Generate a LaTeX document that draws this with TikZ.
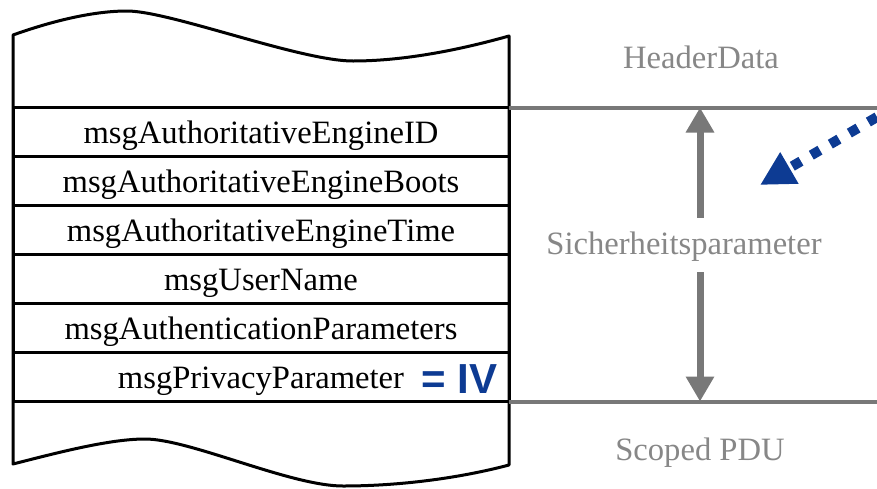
\documentclass[tikz,border=0pt]{standalone}
\usepackage{fontspec}
\setmainfont{Liberation Serif}
\newfontfamily\ivfont{Liberation Sans}
\usetikzlibrary{arrows.meta}
\definecolor{rulegray}{RGB}{120,120,120}
\definecolor{labelgray}{RGB}{135,135,135}
\definecolor{ivblue}{RGB}{13,59,147}

\begin{document}
\begin{tikzpicture}[x=1pt, y=-1pt,
    field/.style={draw, line width=3pt, minimum width=496pt, minimum height=49pt,
      inner sep=0pt, outer sep=0pt, text height=28pt, text depth=6pt,
      font=\fontsize{32.6}{36}\selectfont},
    side/.style={text=labelgray, inner sep=0pt, font=\fontsize{32.6}{36}\selectfont},
    rule/.style={rulegray, line width=4pt},
    span/.style={rulegray, line width=7pt, -{Triangle[length=25pt, width=27pt]}},
    pointer/.style={ivblue, line width=10pt, dash pattern=on 10pt off 12pt,
      -{Triangle[length=34pt, width=34pt]}}]
    \useasboundingbox (0,0) rectangle (877,488);
    % frame with torn top and bottom
    \draw[line width=3pt, line join=round]
      (13,35) .. controls (55,20) and (95,11) .. (127,11)
      .. controls (170,11) and (300,61) .. (353,61)
      .. controls (410,61) and (470,47) .. (509,36)
      -- (509,465)
      .. controls (460,478) and (400,486) .. (343,486)
      .. controls (290,486) and (190,439) .. (145,439)
      .. controls (110,439) and (60,452) .. (13,464) -- cycle;
    % header fields
    \foreach \i/\t in {1/msgAuthoritativeEngineID, 2/msgAuthoritativeEngineBoots,
        3/msgAuthoritativeEngineTime, 4/msgUserName,
        5/msgAuthenticationParameters, 6/msgPrivacyParameter}{
      \node[field] (f\i) at (261, {83+49*\i}) {\t};
    }
    \node[font=\ivfont\bfseries\fontsize{42}{46}\selectfont, text=ivblue,
      anchor=base west, inner sep=0pt] (iv) at (421,393) {= IV};
    % right-hand side
    \coordinate (topend) at (877,107.5);
    \coordinate (botend) at (877,401.5);
    \coordinate (toptip) at (700,107.5);
    \coordinate (bottip) at (700,401.5);
    \draw[rule] (f1.north east) -- (topend);
    \draw[rule] (f6.south east) -- (botend);
    \node[side, anchor=base] (hdr) at (701,68) {HeaderData};
    \node[side, text height=22pt, text depth=4pt, inner ysep=14pt] (sec) at (684,245) {Sicherheitsparameter};
    \node[side, anchor=base] (pdu) at (700,460) {Scoped PDU};
    \draw[span] (sec.north -| toptip) -- (toptip);
    \draw[span] (sec.south -| bottip) -- (bottip);
    \coordinate (ptstart) at (877,117);
    \coordinate (pttip) at (760,185);
    \draw[pointer] (ptstart) -- (pttip);
\end{tikzpicture}
\end{document}
